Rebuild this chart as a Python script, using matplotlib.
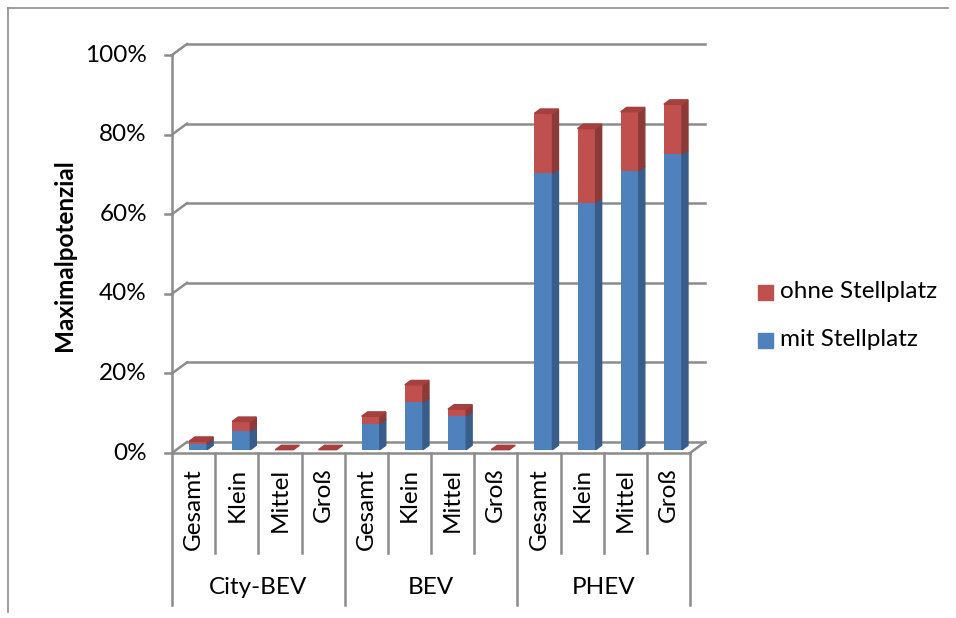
import matplotlib
matplotlib.use("Agg")
import matplotlib.pyplot as plt
from matplotlib.patches import Polygon, Rectangle
from matplotlib.lines import Line2D

groups = ["City-BEV", "BEV", "PHEV"]
sizes = ["Gesamt", "Klein", "Mittel", "Groß"]
mit_stellplatz = [1.5, 4.6, 0, 0, 6.5, 11.9, 8.5, 0, 69.4, 62.1, 70.1, 74.2]
ohne_stellplatz = [0.6, 2.5, 0, 0, 1.9, 4.4, 1.7, 0, 15.1, 18.6, 14.8, 12.6]
y_ticks = [0, 20, 40, 60, 80, 100]

plt.rcParams['font.family'] = ['Lato', 'DejaVu Sans']
FS = 17.5

W, H = 956.0, 618.0
fig = plt.figure(figsize=(W / 100, H / 100), dpi=100)

# front floor 172..690 px, back wall offset 15px right / 11px up
ppu_x = (690 - 172) / 12.0
ppu_y = (453 - 55) / 100.0
dxu = 15 / ppu_x
dyu = 11 / ppu_y
ax = fig.add_axes([172 / W, 1 - 453 / H, (705 - 172) / W, (453 - 44) / H])
ax.set_xlim(-0.5, 11.5 + dxu)
ax.set_ylim(0, 100 + dyu)
ax.axis('off')

grid = '#8c8c8c'
lw = 1.8

# back wall gridlines + left wall diagonals + tick marks
for v in y_ticks:
    ax.plot([-0.5 + dxu, 11.5 + dxu], [v + dyu, v + dyu], color=grid, lw=lw, zorder=1, clip_on=False)
    ax.plot([-0.5, -0.5 + dxu], [v, v + dyu], color=grid, lw=lw, zorder=1, clip_on=False)
    ax.plot([-0.5 - 0.16, -0.5], [v, v], color=grid, lw=lw, zorder=1, clip_on=False)
    ax.text(-0.5 - 0.58, v, "%d%%" % v, ha='right', va='center', fontsize=FS, clip_on=False)

# front axis and floor
ax.plot([-0.5, -0.5], [0, 100], color=grid, lw=lw, zorder=1, clip_on=False)
ax.plot([-0.5, 11.5], [0, 0], color=grid, lw=lw, zorder=1, clip_on=False)
ax.plot([11.5, 11.5 + dxu], [0, dyu], color=grid, lw=lw, zorder=1, clip_on=False)

# bars (pseudo 3D)
w = 0.42
ox, oy = 0.3 * dxu, 0.3 * dyu
bx, by = 0.4 * dxu, 0.4 * dyu
series = [(mit_stellplatz, '#4F81BD', '#385D8A', '#4572A7'),
          (ohne_stellplatz, '#C0504D', '#8B3A38', '#A4403D')]
xs = list(range(len(mit_stellplatz)))
for i in xs:
    base = 0.0
    for s, (vals, c_front, c_side, c_top) in enumerate(series):
        h = vals[i]
        x0 = i + ox - w / 2
        x1 = i + ox + w / 2
        y0 = oy + base
        y1 = oy + base + h
        if h > 0:
            ax.bar(i + ox, h, bottom=y0, width=w, color=c_front, zorder=3, clip_on=False)
            ax.add_patch(Polygon([(x1, y0), (x1 + bx, y0 + by), (x1 + bx, y1 + by), (x1, y1)],
                                 closed=True, color=c_side, zorder=3, clip_on=False))
        if s == len(series) - 1:
            ax.add_patch(Polygon([(x0, y1), (x1, y1), (x1 + bx, y1 + by), (x0 + bx, y1 + by)],
                                 closed=True, color=c_top, zorder=4, clip_on=False))
        base += h

# category axis
lab_y = (453 - 468) / ppu_y
minor_end = (453 - 553) / ppu_y
major_end = (453 - 605) / ppu_y
grp_y = (453 - 588) / ppu_y
for k in range(13):
    end = major_end if k % 4 == 0 else minor_end
    ax.plot([k - 0.5, k - 0.5], [0, end], color=grid, lw=lw, clip_on=False)
for i in xs:
    ax.text(i, lab_y, sizes[i % 4], rotation=90, ha='center', va='top', fontsize=FS, clip_on=False)
for g, name in enumerate(groups):
    ax.text(g * 4 + 1.5, grp_y, name, ha='center', va='center', fontsize=FS, clip_on=False)

fig.text(65 / W, 1 - 255 / H, "Maximalpotenzial", rotation=90, ha='center', va='center',
         fontsize=FS, fontweight='bold')

# legend
for yy, col, lab in [(292, '#C0504D', "ohne Stellplatz"), (340, '#4F81BD', "mit Stellplatz")]:
    fig.add_artist(Rectangle((758 / W, 1 - (yy + 7.5) / H), 15 / W, 15 / H,
                             transform=fig.transFigure, color=col))
    fig.text(780 / W, 1 - yy / H, lab, ha='left', va='center', fontsize=FS)

# chart border
fig.add_artist(Line2D([8 / W, 8 / W], [1 - 8 / H, 1 - 612 / H], color='#8c8c8c', lw=1.2))
fig.add_artist(Line2D([8 / W, 948 / W], [1 - 8 / H, 1 - 8 / H], color='#8c8c8c', lw=1.2))

fig.savefig("out.png", dpi=100)
